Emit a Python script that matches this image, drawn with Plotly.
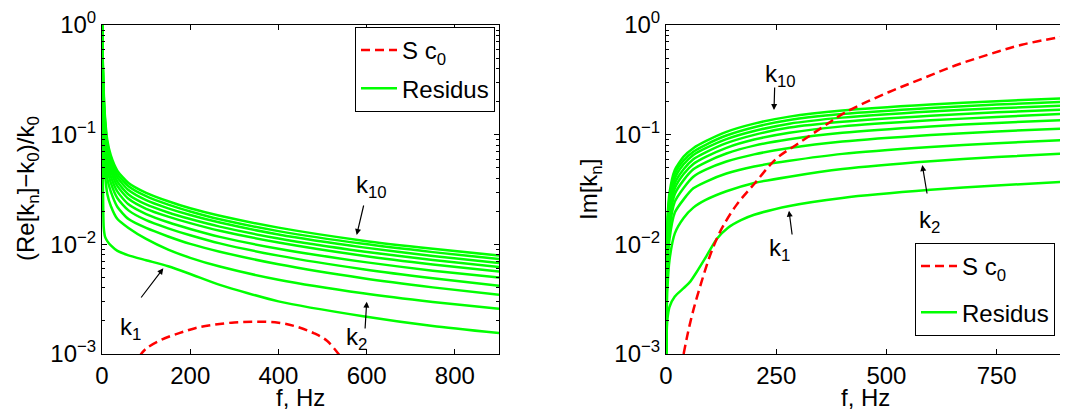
import plotly.graph_objects as go

# ---------------- data ----------------
# Left panel: (Re[k_n]-k_0)/k_0 versus f
F_RE = [0, 1, 2, 4, 7, 12, 20, 35, 60, 100, 150, 200, 267, 400, 592, 750, 900]
RE_K10 = [1, 0.676, 0.437, 0.240, 0.141, 0.0891, 0.0646, 0.0468, 0.0363, 0.0295, 0.0247, 0.0213, 0.0182, 0.0142, 0.0108, 0.0091, 0.00789]
RE_K9 = [1, 0.661, 0.417, 0.224, 0.132, 0.0832, 0.0603, 0.0437, 0.0339, 0.0275, 0.0230, 0.0199, 0.0169, 0.0132, 0.0101, 0.00849, 0.00736]
RE_K8 = [1, 0.631, 0.389, 0.204, 0.120, 0.0759, 0.0562, 0.0407, 0.0313, 0.0253, 0.0213, 0.0185, 0.0158, 0.0123, 0.00938, 0.00782, 0.00676]
RE_K7 = [1, 0.617, 0.363, 0.186, 0.110, 0.0692, 0.0513, 0.0372, 0.0285, 0.0231, 0.0195, 0.0170, 0.0145, 0.0113, 0.00861, 0.00719, 0.00622]
RE_K6 = [1, 0.589, 0.339, 0.170, 0.100, 0.0631, 0.0468, 0.0339, 0.0260, 0.0211, 0.0179, 0.0156, 0.0133, 0.0104, 0.00787, 0.00655, 0.00564]
RE_K5 = [1, 0.562, 0.309, 0.151, 0.0891, 0.0562, 0.0417, 0.0302, 0.0232, 0.0189, 0.0159, 0.0138, 0.0117, 0.00912, 0.00692, 0.00575, 0.00497]
RE_K4 = [1, 0.525, 0.275, 0.132, 0.0759, 0.0490, 0.0363, 0.0263, 0.0204, 0.0166, 0.0140, 0.0121, 0.0102, 0.00789, 0.00592, 0.00490, 0.00420]
RE_K3 = [1, 0.490, 0.240, 0.110, 0.0631, 0.0398, 0.0302, 0.0219, 0.0170, 0.0141, 0.0118, 0.0101, 0.00857, 0.00658, 0.00491, 0.00405, 0.00346]
RE_K2 = [1, 0.417, 0.178, 0.0759, 0.0437, 0.0288, 0.0224, 0.0170, 0.0141, 0.0112, 0.00895, 0.00753, 0.00627, 0.00476, 0.00358, 0.00298, 0.00258]
RE_K1 = [1, 0.200, 0.0398, 0.0141, 0.0117, 0.0107, 0.00977, 0.00871, 0.00794, 0.00716, 0.00631, 0.00537, 0.00427, 0.00302, 0.00221, 0.00180, 0.00155]

F_RE_SC0 = [85, 100, 135, 175, 211, 250, 300, 350, 400, 440, 480, 510, 540]
RE_SC0 = [0.000955, 0.00112, 0.00135, 0.00155, 0.00172, 0.00184, 0.00194, 0.00197, 0.00193, 0.00178, 0.00155, 0.00132, 0.000955]

# Right panel: Im[k_n] versus f
F_IM = [0, 1, 3, 8, 20, 40, 62, 90, 137, 200, 280, 400, 600, 750, 910]
IM_K10 = [0.001, 0.00631, 0.0158, 0.0295, 0.0476, 0.0631, 0.0752, 0.0871, 0.106, 0.126, 0.146, 0.166, 0.188, 0.202, 0.215]
IM_K9 = [0.001, 0.00575, 0.0145, 0.0269, 0.0439, 0.0582, 0.0700, 0.0809, 0.0982, 0.117, 0.136, 0.154, 0.175, 0.188, 0.200]
IM_K8 = [0.001, 0.00525, 0.0129, 0.0245, 0.0400, 0.0537, 0.0653, 0.0753, 0.0912, 0.108, 0.126, 0.143, 0.163, 0.174, 0.185]
IM_K7 = [0.001, 0.00468, 0.0115, 0.0219, 0.0361, 0.0484, 0.0596, 0.0689, 0.0836, 0.0995, 0.116, 0.131, 0.149, 0.160, 0.170]
IM_K6 = [0.001, 0.00417, 0.0100, 0.0195, 0.0324, 0.0437, 0.0541, 0.0627, 0.0759, 0.0902, 0.104, 0.119, 0.135, 0.145, 0.155]
IM_K5 = [0.001, 0.00363, 0.00871, 0.0170, 0.0288, 0.0385, 0.0483, 0.0560, 0.0673, 0.0794, 0.0910, 0.104, 0.119, 0.128, 0.136]
IM_K4 = [0.001, 0.00309, 0.00724, 0.0141, 0.0245, 0.0327, 0.0414, 0.0479, 0.0569, 0.0661, 0.0755, 0.0865, 0.0993, 0.107, 0.114]
IM_K3 = [0.001, 0.00251, 0.00562, 0.0112, 0.0195, 0.0257, 0.0324, 0.0372, 0.0442, 0.0513, 0.0578, 0.0668, 0.0771, 0.0836, 0.0895]
IM_K2 = [0.001, 0.00182, 0.00380, 0.00724, 0.0126, 0.0174, 0.0216, 0.0254, 0.0305, 0.0363, 0.0414, 0.0486, 0.0573, 0.0625, 0.0676]

# k1 has its own, denser frequency samples (S-shaped rise)
F_IM_K1 = [0, 1, 3, 8, 20, 40, 55, 70, 90, 115, 140, 170, 200, 280, 400, 600, 750, 910]
IM_K1 = [0.001, 0.00138, 0.00204, 0.00269, 0.00334, 0.00398, 0.00457, 0.00562, 0.00759, 0.0112, 0.0141, 0.0166, 0.0186, 0.0224, 0.0265, 0.0314, 0.0344, 0.0373]

F_IM_SC0 = [40, 50, 62, 80, 100, 115, 130, 160, 200, 250, 300, 355, 405, 506, 581, 656, 731, 807, 910]
IM_SC0 = [0.001, 0.00158, 0.00251, 0.00447, 0.00794, 0.0112, 0.0148, 0.0229, 0.0355, 0.0603, 0.0832, 0.117, 0.158, 0.245, 0.324, 0.427, 0.537, 0.661, 0.794]

RE_RESIDUS = [RE_K1, RE_K2, RE_K3, RE_K4, RE_K5, RE_K6, RE_K7, RE_K8, RE_K9, RE_K10]
IM_RESIDUS = [(F_IM_K1, IM_K1), (F_IM, IM_K2), (F_IM, IM_K3), (F_IM, IM_K4), (F_IM, IM_K5),
              (F_IM, IM_K6), (F_IM, IM_K7), (F_IM, IM_K8), (F_IM, IM_K9), (F_IM, IM_K10)]

X_TICKS_RE = [0, 200, 400, 600, 800]
X_TICKS_IM = [0, 250, 500, 750]
Y_TICKS = [1e-3, 1e-2, 1e-1, 1]
Y_TICK_LABELS = ["10<sup>\u22123</sup>", "10<sup>\u22122</sup>", "10<sup>\u22121</sup>", "10<sup>0</sup>"]
Y_MINOR = [m * 10.0 ** e for e in (-3, -2, -1) for m in range(2, 10)]

LABEL_SC0 = "S c<sub>0</sub>"
LABEL_RES = "Residus"

# ---------------- styling ----------------
W, H = 1068, 412
OFF = 8  # the page body has an 8 px margin; positions below are window pixels
FONT = "Liberation Sans, Arial, Helvetica, sans-serif"
FS = 24
GREEN = "#00FF00"
RED = "#FF0000"


def px(x):
    return (x - OFF) / W


def py(y):
    return 1 - (y - OFF) / H


fig = go.Figure()

# Left panel
for i, ys in enumerate(RE_RESIDUS):
    fig.add_trace(go.Scatter(
        x=F_RE, y=ys, mode="lines", line=dict(color=GREEN, width=2.5, shape="spline", smoothing=0.6),
        name=LABEL_RES, legend="legend", legendgroup="res_l", legendrank=2,
        showlegend=(i == 0), xaxis="x", yaxis="y", hoverinfo="skip"))
fig.add_trace(go.Scatter(
    x=F_RE_SC0, y=RE_SC0, mode="lines", line=dict(color=RED, width=2.5, dash="9px,5px", shape="spline"),
    name=LABEL_SC0, legend="legend", legendgroup="sc0_l", legendrank=1, xaxis="x", yaxis="y"))

# Right panel
for i, (fx, ys) in enumerate(IM_RESIDUS):
    fig.add_trace(go.Scatter(
        x=fx, y=ys, mode="lines", line=dict(color=GREEN, width=2.5, shape="spline", smoothing=0.6),
        name=LABEL_RES, legend="legend2", legendgroup="res_r", legendrank=2,
        showlegend=(i == 0), xaxis="x2", yaxis="y2", hoverinfo="skip"))
fig.add_trace(go.Scatter(
    x=F_IM_SC0, y=IM_SC0, mode="lines", line=dict(color=RED, width=2.5, dash="9px,5px", shape="spline"),
    name=LABEL_SC0, legend="legend2", legendgroup="sc0_r", legendrank=1, xaxis="x2", yaxis="y2"))

axis_common = dict(
    showline=True, linecolor="black", linewidth=1, mirror="ticks",
    ticks="inside", ticklen=5, tickwidth=1, tickcolor="black",
    showgrid=False, zeroline=False, automargin=False,
    tickfont=dict(family=FONT, size=FS, color="black"),
)
y_common = dict(
    axis_common, type="log", range=[-3, 0], tickmode="array",
    tickvals=Y_TICKS, ticktext=Y_TICK_LABELS,
    minor=dict(tickvals=Y_MINOR, ticks="inside", ticklen=3, tickcolor="black"),
)

Y_DOM = [py(354), py(25)]

legend_common = dict(
    bgcolor="white", bordercolor="black", borderwidth=1,
    font=dict(family=FONT, size=FS, color="black"),
    traceorder="grouped", itemwidth=36,
)

fig.update_layout(
    width=W, height=H,
    margin=dict(l=0, r=0, t=0, b=0, autoexpand=False),
    paper_bgcolor="white", plot_bgcolor="white",
    font=dict(family=FONT, size=FS, color="black"),
    xaxis=dict(axis_common, domain=[px(102), px(499)], range=[0, 900],
               tickmode="array", tickvals=X_TICKS_RE, anchor="y"),
    yaxis=dict(y_common, domain=Y_DOM, anchor="x"),
    xaxis2=dict(axis_common, domain=[px(666), 1.0], range=[0, 930],
                tickmode="array", tickvals=X_TICKS_IM, anchor="y2"),
    yaxis2=dict(y_common, domain=Y_DOM, anchor="x2"),
    legend=dict(legend_common, x=px(495), xanchor="right", y=py(27), yanchor="top", tracegroupgap=4),
    legend2=dict(legend_common, x=px(1055), xanchor="right", y=py(243), yanchor="top", tracegroupgap=12),
    showlegend=True,
)

ann_font = dict(family=FONT, size=FS, color="black")
texts = [
    ("f, Hz", 300, 397, 0),
    ("f, Hz", 865, 397, 0),
    ("(Re[k<sub>n</sub>]\u2212k<sub>0</sub>)/k<sub>0</sub>", 27, 189, -90),
    ("Im[k<sub>n</sub>]", 590, 190, -90),
    ("k<sub>10</sub>", 371, 187, 0),
    ("k<sub>1</sub>", 130, 328, 0),
    ("k<sub>2</sub>", 356, 338, 0),
    ("k<sub>10</sub>", 780, 75, 0),
    ("k<sub>1</sub>", 779, 250, 0),
    ("k<sub>2</sub>", 929, 221, 0),
]
annotations = []
for t, x, y, ang in texts:
    annotations.append(dict(text=t, x=px(x), y=py(y), xref="paper", yref="paper",
                            xanchor="center", yanchor="middle", showarrow=False,
                            textangle=ang, font=ann_font))

arrows = [  # tip (x, y), tail offset (ax, ay) in pixels
    (356.7, 235, 7.3, -31),
    (163.3, 268.3, -23.3, 30.7),
    (366.7, 301.7, -1.7, 28.3),
    (774, 110, 0.7, -24),
    (789, 210.7, 3.3, 25.3),
    (922.3, 165, 5, 30),
]
for x, y, ax, ay in arrows:
    annotations.append(dict(text="", x=px(x), y=py(y), xref="paper", yref="paper",
                            ax=ax, ay=ay, showarrow=True, arrowhead=2, arrowsize=1,
                            arrowwidth=1.2, arrowcolor="black"))

fig.update_layout(annotations=annotations)

fig.write_html("out.html")
